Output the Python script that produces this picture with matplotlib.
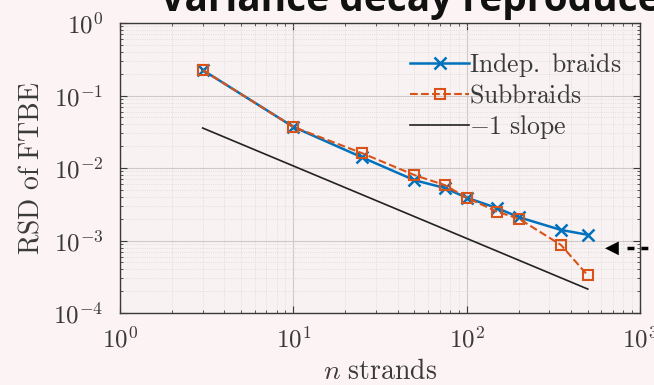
import numpy as np
import matplotlib
matplotlib.use("Agg")
import matplotlib.pyplot as plt
from matplotlib.lines import Line2D

plt.rcParams['mathtext.fontset'] = 'cm'
plt.rcParams['font.family'] = 'serif'
plt.rcParams['font.serif'] = ['cmr10']
plt.rcParams['axes.formatter.use_mathtext'] = True

# data
n_indep = [3, 10, 25, 50, 75, 100, 150, 200, 350, 500]
rsd_indep = [0.225, 0.037, 0.014, 0.0068, 0.0053, 0.0039, 0.0028, 0.0021, 0.0014, 0.0012]
n_sub = [3, 10, 25, 50, 75, 100, 150, 200, 350, 500]
rsd_sub = [0.225, 0.037, 0.016, 0.0080, 0.0058, 0.0039, 0.0025, 0.0020, 0.00087, 0.00033]
slope_n = [3, 500]
slope_c = 0.107

blue = '#0072BD'
orange = '#D95319'
bg = '#fcf4f4'
ink = '#3a3a3a'

fig = plt.figure(figsize=(6.54, 3.85), dpi=100, facecolor=bg)
ax = fig.add_axes([0.1835, 0.187, 0.795, 0.753])
ax.set_facecolor('#f8f2f2')

ax.loglog(n_indep, rsd_indep, '-x', color=blue, lw=1.8, ms=9, mew=1.8, label=r'$\mathrm{Indep.\ braids}$')
ax.loglog(n_sub, rsd_sub, '--s', color=orange, lw=1.5, ms=7, mew=1.5, mfc='none', label=r'$\mathrm{Subbraids}$')
ax.loglog(slope_n, [slope_c / v for v in slope_n], '-', color='#222222', lw=1.2, label=r'$-1\ \mathrm{slope}$')

ax.set_xlim(1, 1000)
ax.set_ylim(1e-4, 1)
ax.grid(True, which='major', color='#cfcaca', lw=0.8)
ax.grid(True, which='minor', color='#dcd6d6', lw=0.6, ls=':')
ax.tick_params(which='both', direction='in', top=True, right=True, labelsize=18, colors=ink)
ax.tick_params(axis='x', which='major', pad=10)
ax.tick_params(axis='y', which='major', pad=12)
ax.tick_params(which='major', length=5)
ax.tick_params(which='minor', length=2.5)
for s in ax.spines.values():
    s.set_color(ink)
    s.set_linewidth(1.0)

ax.set_xlabel(r'$n\ \mathrm{strands}$', fontsize=20, color=ink, labelpad=4)
ax.set_ylabel(r'$\mathrm{RSD\ of\ FTBE}$', fontsize=20, color=ink, labelpad=6)

leg = ax.legend(loc='upper right', frameon=False, fontsize=18.5, handlelength=2.3,
                handletextpad=0.0, labelspacing=0.2, borderaxespad=0.0,
                bbox_to_anchor=(0.985, 0.94))
for t in leg.get_texts():
    t.set_color(ink)

# slide title, cut off at the top
fig.text(0.245, 1 - 11 / 385, 'Variance decay reproduced', fontsize=28, fontweight='bold',
         family='Open Sans', va='baseline', ha='left', color='#111111')

# slide pointer arrow on the right
fig.text(0.925, 1 - 248 / 385, '\u25C0', fontsize=13, family='DejaVu Sans', va='center', ha='left', color='black')
fig.add_artist(Line2D([0.958, 1.0], [1 - 248 / 385] * 2, color='black', lw=2.5, ls=(0, (2, 2))))

fig.savefig('out.png', dpi=100, facecolor=bg)
